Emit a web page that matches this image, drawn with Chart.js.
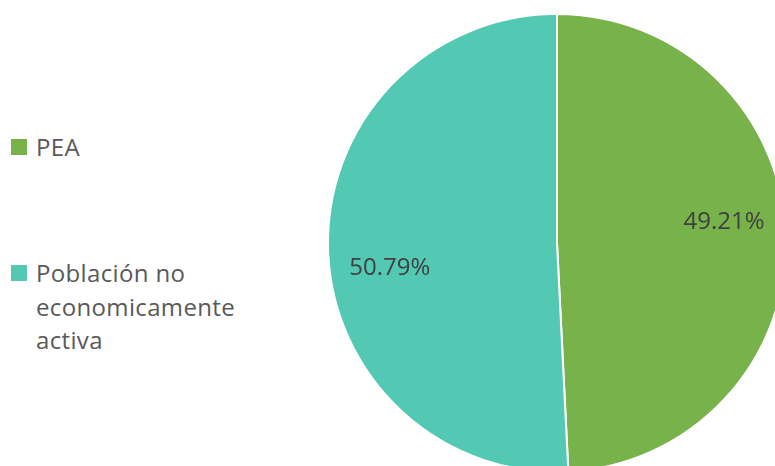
<!DOCTYPE html>
<html>
<head>
<meta charset="utf-8">
<script src="https://cdn.jsdelivr.net/npm/chart.js@4"></script>
<style>
    html, body {
        margin: 0;
        padding: 0;
        width: 775px;
        height: 466px;
        overflow: hidden;
        background: #ffffff;
        font-family: "Open Sans", sans-serif;
    }
    #pieWrap {
        position: absolute;
        left: 317px;
        top: 3px;
        width: 480px;
        height: 480px;
    }
    .legend-item {
        position: absolute;
        left: 11px;
        width: 235px;
        font-size: 24px;
        line-height: 33.5px;
        letter-spacing: 0.35px;
        color: #595959;
    }
    .legend-item .box {
        position: absolute;
        left: 0;
        top: 9px;
        width: 16px;
        height: 16px;
    }
    .legend-item .text {
        margin-left: 25px;
    }
</style>
</head>
<body>
<div id="legend"></div>
<div id="pieWrap"><canvas id="pieChart" width="480" height="480"></canvas></div>

<script>
const categories = ['PEA', 'Población no economicamente activa'];
const shares = [49.21, 50.79];
const sliceColors = ['#77B24A', '#53C9B3'];

// legend rows sit at fixed heights on the left
const legendTops = [130, 256];
const legendEl = document.getElementById('legend');
categories.forEach((name, i) => {
    const item = document.createElement('div');
    item.className = 'legend-item';
    item.style.top = legendTops[i] + 'px';
    item.innerHTML = '<span class="box" style="background:' + sliceColors[i] + '"></span>' +
        '<div class="text">' + name + '</div>';
    legendEl.appendChild(item);
});

// percentage labels drawn inside each slice
const sliceLabels = {
    id: 'sliceLabels',
    afterDatasetsDraw(chart, args, opts) {
        const ctx = chart.ctx;
        const meta = chart.getDatasetMeta(0);
        ctx.save();
        ctx.font = '24px "Open Sans"';
        ctx.fillStyle = '#404040';
        ctx.textAlign = 'center';
        ctx.textBaseline = 'middle';
        meta.data.forEach((arc, i) => {
            const p = arc.getProps(['x', 'y', 'startAngle', 'endAngle', 'outerRadius'], true);
            const mid = (p.startAngle + p.endAngle) / 2;
            const r = p.outerRadius * opts.radius;
            const x = p.x + Math.cos(mid) * r;
            const y = p.y + Math.sin(mid) * r + opts.nudge[i];
            const v = chart.data.datasets[0].data[i];
            ctx.fillText(v.toFixed(2) + '%', x, y);
        });
        ctx.restore();
    }
};

new Chart(document.getElementById('pieChart'), {
    type: 'pie',
    data: {
        labels: categories,
        datasets: [{
            data: shares,
            backgroundColor: sliceColors,
            borderColor: '#ffffff',
            borderWidth: 2
        }]
    },
    options: {
        responsive: false,
        animation: false,
        layout: { padding: 10 },
        plugins: {
            legend: { display: false },
            tooltip: { enabled: false },
            sliceLabels: { radius: 0.73, nudge: [-17, 21] }
        }
    },
    plugins: [sliceLabels]
});
</script>
</body>
</html>
